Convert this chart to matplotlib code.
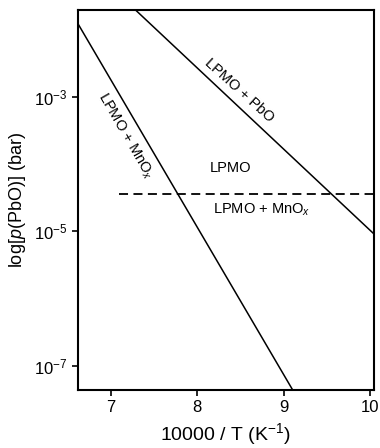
import numpy as np
from matplotlib import pyplot as plt

# boundary lines: (10000/T, log10 p(PbO))
mnox_x = [6.62, 9.10]
mnox_logp = [-1.91, -7.36]
pbo_x = [7.28, 10.04]
pbo_logp = [-1.70, -5.04]
dash_x = [7.10, 10.04]
dash_logp = [-4.44, -4.44]

xticks = [7, 8, 9, 10]
yticks = [1e-3, 1e-5, 1e-7]
ytick_labels = ["10$^{-3}$", "10$^{-5}$", "10$^{-7}$"]

plt.rcParams["font.family"] = ["Liberation Sans", "DejaVu Sans"]
plt.rcParams["mathtext.fontset"] = "custom"
plt.rcParams["mathtext.rm"] = "Liberation Sans"
plt.rcParams["mathtext.it"] = "Liberation Sans:italic"

fig = plt.figure(figsize=(3.8, 4.48), dpi=100)
ax = fig.add_axes([0.205, 0.13, 0.779, 0.848])

ax.semilogy(mnox_x, 10 ** np.array(mnox_logp), color="black", lw=1.1)
ax.semilogy(pbo_x, 10 ** np.array(pbo_logp), color="black", lw=1.1)
ax.semilogy(dash_x, 10 ** np.array(dash_logp), color="black", lw=1.3,
            dashes=(5, 3))

ax.set_xlim(6.62, 10.04)
ax.set_ylim(10 ** -7.36, 10 ** -1.705)
ax.set_xticks(xticks)
ax.set_xticklabels([str(t) for t in xticks])
ax.set_yticks(yticks)
ax.set_yticklabels(ytick_labels)
ax.minorticks_off()
ax.tick_params(direction="out", length=4, width=1.2, labelsize=12)
for s in ax.spines.values():
    s.set_linewidth(1.5)

# region labels
ax.text(8.48, 10 ** -2.90, "LPMO + PbO", rotation=-42, ha="center",
        va="center", fontsize=10.5)
ax.text(7.17, 10 ** -3.58, "LPMO + MnO$_x$", rotation=-60, ha="center",
        va="center", fontsize=10.5)
ax.text(8.38, 10 ** -4.06, "LPMO", ha="center", va="center", fontsize=10.5)
ax.text(8.74, 10 ** -4.68, "LPMO + MnO$_x$", ha="center", va="center",
        fontsize=10.5)

ax.set_xlabel("10000 / T (K$^{-1}$)", fontsize=14)
ax.set_ylabel("log[$\\it{p}$(PbO)] (bar)", fontsize=13)

fig.savefig("out.png", dpi=100)
